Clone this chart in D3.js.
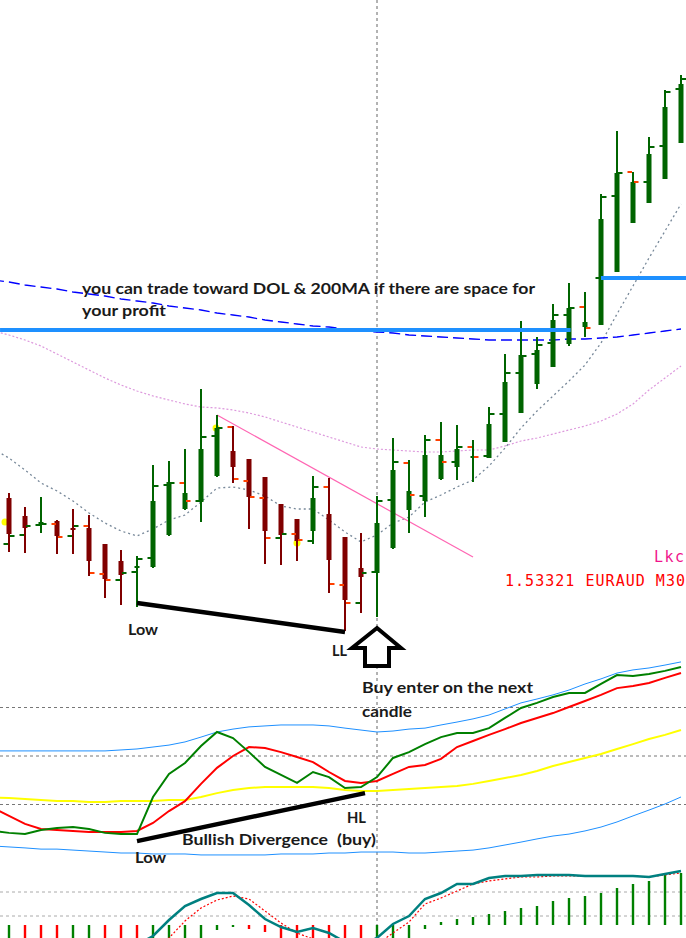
<!DOCTYPE html>
<html><head><meta charset="utf-8">
<script src="https://cdn.jsdelivr.net/npm/d3@7"></script>
<style>html,body{margin:0;padding:0;background:#fff;overflow:hidden}</style>
</head><body>
<script>
// ---------- DATA (EURAUD M30) ----------
const high  = [1.5307,1.5293,1.5303,1.5280,1.5291,1.5285,1.5256,1.5250,1.5244,1.5335,1.5339,1.5351,1.5411,1.5385,1.5374,1.5341,1.5323,1.5296,1.5281,1.5324,1.5322,1.5263,1.5267,1.5304,1.5362,1.5340,1.5365,1.5378,1.5375,1.5360,1.5393,1.5446,1.5479,1.5463,1.5496,1.5517,1.5508,1.5606,1.5669,1.5628,1.5663,1.5710,1.5725];
const low   = [1.5248,1.5247,1.5267,1.5246,1.5246,1.5224,1.5202,1.5195,1.5193,1.5232,1.5264,1.5290,1.5278,1.5323,1.5317,1.5271,1.5236,1.5235,1.5239,1.5256,1.5207,1.5169,1.5187,1.5183,1.5251,1.5267,1.5283,1.5320,1.5320,1.5318,1.5342,1.5358,1.5387,1.5411,1.5433,1.5454,1.5463,1.5475,1.5528,1.5577,1.5597,1.5621,1.5657];
const open  = [1.5256,1.5265,1.5275,1.5276,1.5264,1.5274,1.5226,1.5220,1.5228,1.5242,1.5315,1.5317,1.5299,1.5364,1.5373,1.5319,1.5302,1.5262,1.5266,1.5259,1.5313,1.5215,1.5197,1.5228,1.5300,1.5337,1.5304,1.5360,1.5338,1.5353,1.5344,1.5386,1.5427,1.5446,1.5457,1.5485,1.5493,1.5522,1.5604,1.5628,1.5618,1.5654,1.5711];
const close = [1.5264,1.5274,1.5276,1.5263,1.5274,1.5227,1.5220,1.5227,1.5241,1.5314,1.5317,1.5299,1.5363,1.5372,1.5321,1.5303,1.5262,1.5266,1.5260,1.5313,1.5216,1.5197,1.5227,1.5299,1.5338,1.5305,1.5360,1.5338,1.5353,1.5343,1.5386,1.5427,1.5444,1.5455,1.5485,1.5492,1.5472,1.5603,1.5627,1.5618,1.5653,1.5708,1.5721];
const haOpen  = [1.5302,1.5284,1.5276,1.5279,1.5272,1.5272,1.5256,1.5239,1.5232,1.5233,1.5265,1.5291,1.5298,1.5324,1.5349,1.5341,1.5323,1.5296,1.5281,1.5269,1.5286,1.5263,1.5232,1.5227,1.5252,1.5290,1.5299,1.5321,1.5333,1.5342,1.5342,1.5358,1.5387,1.5416,1.5433,1.5456,1.5473,1.5475,1.5528,1.5577,1.5597,1.5621,1.5657];
const haClose = [1.5266,1.5272,1.5278,1.5264,1.5271,1.5239,1.5221,1.5225,1.5234,1.5299,1.5318,1.5307,1.5351,1.5372,1.5333,1.5303,1.5269,1.5265,1.5259,1.5302,1.5240,1.5200,1.5223,1.5277,1.5330,1.5309,1.5345,1.5345,1.5351,1.5344,1.5376,1.5418,1.5445,1.5450,1.5480,1.5492,1.5478,1.5581,1.5627,1.5618,1.5646,1.5693,1.5716];

// indicator series below start one bar earlier (bar index -1) so they reach the left edge
const ma200    = [1.5520,1.5518,1.5515,1.5513,1.5511,1.5508,1.5506,1.5504,1.5501,1.5499,1.5497,1.5494,1.5492,1.5490,1.5487,1.5485,1.5483,1.5480,1.5478,1.5476,1.5474,1.5473,1.5471,1.5469,1.5468,1.5467,1.5465,1.5464,1.5463,1.5462,1.5461,1.5460,1.5460,1.5460,1.5460,1.5460,1.5461,1.5461,1.5462,1.5463,1.5465,1.5467,1.5469,1.5471];
const kcUpper  = [1.5469,1.5465,1.5460,1.5454,1.5446,1.5438,1.5430,1.5422,1.5415,1.5409,1.5404,1.5400,1.5396,1.5393,1.5392,1.5390,1.5387,1.5383,1.5378,1.5373,1.5368,1.5363,1.5358,1.5353,1.5351,1.5350,1.5349,1.5348,1.5348,1.5349,1.5350,1.5350,1.5354,1.5359,1.5362,1.5366,1.5370,1.5374,1.5379,1.5386,1.5396,1.5410,1.5422,1.5434];
const kcMiddle = [1.5351,1.5342,1.5330,1.5317,1.5309,1.5299,1.5287,1.5277,1.5269,1.5264,1.5271,1.5280,1.5285,1.5298,1.5312,1.5313,1.5310,1.5304,1.5294,1.5291,1.5291,1.5280,1.5268,1.5258,1.5265,1.5277,1.5283,1.5298,1.5305,1.5313,1.5320,1.5334,1.5352,1.5372,1.5389,1.5404,1.5419,1.5435,1.5457,1.5486,1.5514,1.5542,1.5569,1.5596];

const trendLine    = [{i:13, p:1.5385}, {i:29, p:1.5243}];
const levels       = [{p:1.5470, from:-0.56, to:35.1}, {p:1.5522, from:37, to:42.4}];
const priceLowLine = [{i:8, p:1.5197}, {i:21, p:1.5168}];
const markerDots   = [{i:-0.25, p:1.5278}, {i:12.94, p:1.5372}, {i:18, p:1.5257}];

// RSI-style panel (also from bar index -1)
const rsiLevels = [70, 50, 30];
const rsi     = [19.1,18.3,17.8,19.5,20.3,20.7,19.9,18.3,17.8,17.8,33.1,42.6,47.1,54.1,59.9,57.4,51.6,45.5,42.2,38.9,43.4,41.3,36.8,37.2,41.3,49.2,51.6,54.9,57.8,59.5,59.5,61.5,65.7,69.8,71.9,74.3,76.0,76.0,79.7,83.4,83.0,83.8,85.1,86.7];
const rsiMa   = [28.6,25.3,22.0,19.9,19.5,19.1,18.7,18.7,18.7,19.1,22.4,27.3,31.4,38.5,45.1,50.0,53.7,53.3,51.6,49.6,47.5,43.4,39.7,38.9,39.7,42.6,45.5,46.3,48.8,53.7,56.2,58.7,61.1,63.6,65.7,67.7,70.2,72.7,75.2,78.0,78.9,80.1,82.2,84.2];
const rsiSlow = [32.8,32.7,32.3,31.9,31.4,31.4,31.0,31.0,31.4,31.4,31.4,31.9,31.9,33.1,34.7,36.0,36.8,37.2,37.2,37.2,37.2,36.8,36.0,35.6,35.6,36.0,36.4,36.8,37.2,37.6,38.5,39.7,40.9,42.2,43.8,45.9,47.5,49.2,50.8,52.9,54.9,57.0,58.7,60.7];
const bandUp  = [52.1,52.1,52.1,52.1,52.1,52.1,52.1,52.1,52.5,52.9,53.7,54.5,55.8,57.8,59.9,61.1,62.0,62.4,62.8,62.8,62.8,62.4,61.5,60.7,59.9,60.3,61.1,61.5,62.8,64.0,65.3,66.9,69.4,71.9,73.5,75.2,77.2,79.7,81.8,84.2,85.5,86.3,87.5,88.8];
const bandLo  = [12.9,12.5,12.1,11.6,11.6,11.2,10.8,10.4,10.0,10.0,9.6,9.6,9.6,9.2,9.2,9.2,9.2,9.2,9.6,9.6,9.6,10.0,10.0,10.4,10.4,10.4,10.0,10.0,10.4,10.8,11.2,12.1,13.3,14.5,15.8,17.0,17.8,19.1,20.7,22.8,25.3,27.7,30.2,33.1];
const rsiDivLine = [{i:8, v:14.9}, {i:22.25, v:34.7}];

// MACD-style panel (points, bar index 0..)
const macdLevels = [33, 9];
const macdMain   = [-30,-30,-28,-28,-28,-30,-32,-30,-20,-11,5,19,26,32,32,20,6,-2,-7,-3,-8,-17,-20,-13,1,9,26,32,41,41,47,49,49,50,50,50,49,49,49,49,48,51,54];
const macdSignal = [-30,-30,-30,-30,-30,-30,-32,-33,-30,-25,-13,4,17,25,29,26,14,2,-8,-14,-18,-19,-20,-19,-8,3,21,27,34,41,44,46,48,48,49,49,49,49,49,49,48,50,52];
const macdHist   = [-18,-20,-22,-24,-22,-20,-22,-24,-26,-22,-18,-15,-13,-5,-2,-4,-7,-15,-18,-20,-22,-25,-28,-24,-18,-13,-4,3,6,8,11,14,17,19,24,27,29,32,37,41,44,50,52];

// ---------- DRAW ----------
const W = 686, H = 938;
const svg = d3.select("body").append("svg").attr("width", W).attr("height", H)
  .style("background", "#fff").style("display", "block");

const n = high.length;
const x = d3.scaleLinear().domain([0, n - 1]).range([9, 681]);
const y = d3.scaleLinear().domain([1.58, 1.516]).range([0, 640]);
const yR = d3.scaleLinear().domain([0, 100]).range([877.25, 634.75]);
const yM = d3.scaleLinear().domain([0, 50]).range([925, 875]);
const idx = d3.range(n);

// dashed grid lines
svg.selectAll(".rl").data(rsiLevels).join("line")
  .attr("x1", 0).attr("x2", W).attr("y1", d => yR(d)).attr("y2", d => yR(d))
  .attr("stroke", "#777").attr("stroke-dasharray", "3,3").attr("stroke-width", 1);
svg.selectAll(".ml").data(macdLevels).join("line")
  .attr("x1", 0).attr("x2", W).attr("y1", d => yM(d)).attr("y2", d => yM(d))
  .attr("stroke", "#aaa").attr("stroke-dasharray", "3,3").attr("stroke-width", 1);

// vertical crosshair
svg.append("line").attr("x1", x(23)).attr("x2", x(23)).attr("y1", 0).attr("y2", H)
  .attr("stroke", "#666").attr("stroke-dasharray", "3,3").attr("stroke-width", 1);

// series starting at bar -1
const lineP = arr => d3.line().x((d, i) => x(i - 1)).y(d => y(d))(arr);

// MAs / channel
svg.append("path").attr("d", lineP(kcUpper)).attr("fill", "none")
  .attr("stroke", "#dd99dd").attr("stroke-width", 1.2).attr("stroke-dasharray", "2,2");
svg.append("path").attr("d", lineP(kcMiddle)).attr("fill", "none")
  .attr("stroke", "#778899").attr("stroke-width", 1.3).attr("stroke-dasharray", "2,3");
svg.append("path").attr("d", lineP(ma200)).attr("fill", "none")
  .attr("stroke", "#0000ff").attr("stroke-width", 1.3).attr("stroke-dasharray", "11,5");

// trend line
svg.append("line").attr("x1", x(trendLine[0].i)).attr("y1", y(trendLine[0].p))
  .attr("x2", x(trendLine[1].i)).attr("y2", y(trendLine[1].p))
  .attr("stroke", "#ff66b3").attr("stroke-width", 1.2);

// yellow markers
svg.selectAll(".dot").data(markerDots).join("circle")
  .attr("cx", d => x(d.i)).attr("cy", d => y(d.p)).attr("r", 3.5).attr("fill", "#ffff00");

// candles
const GREEN = "#006400", RED = "#800000", ORANGE = "#ff4000";
const g = svg.append("g");
g.selectAll(".wick").data(idx).join("rect")
  .attr("x", i => x(i) - 1).attr("width", 2)
  .attr("y", i => y(high[i])).attr("height", i => y(low[i]) - y(high[i]))
  .attr("fill", i => haClose[i] >= haOpen[i] ? GREEN : RED);
g.selectAll(".body").data(idx).join("rect")
  .attr("x", i => x(i) - 2.5).attr("width", 5)
  .attr("y", i => y(Math.max(haOpen[i], haClose[i])))
  .attr("height", i => Math.max(2, Math.abs(y(haOpen[i]) - y(haClose[i]))))
  .attr("fill", i => haClose[i] >= haOpen[i] ? GREEN : RED);
g.selectAll(".tl").data(idx).join("rect")
  .attr("x", i => x(i) - 5.5).attr("width", 4.5)
  .attr("y", i => y(open[i]) - 1).attr("height", 2)
  .attr("fill", i => close[i] >= open[i] ? GREEN : ORANGE);
g.selectAll(".tr").data(idx).join("rect")
  .attr("x", i => x(i) + 1).attr("width", 4.5)
  .attr("y", i => y(close[i]) - 1).attr("height", 2)
  .attr("fill", i => close[i] >= open[i] ? GREEN : ORANGE);

// horizontal levels (DOL)
svg.selectAll(".lvl").data(levels).join("line")
  .attr("x1", d => x(d.from)).attr("x2", d => x(d.to))
  .attr("y1", d => y(d.p)).attr("y2", d => y(d.p))
  .attr("stroke", "#1e90ff").attr("stroke-width", 4);

// Low -> LL line
svg.append("line").attr("x1", x(priceLowLine[0].i)).attr("y1", y(priceLowLine[0].p))
  .attr("x2", x(priceLowLine[1].i)).attr("y2", y(priceLowLine[1].p))
  .attr("stroke", "#000").attr("stroke-width", 4.5);

// up arrow
const ax = x(23), at = y(1.5172);
svg.append("path")
  .attr("d", `M${ax},${at} L${ax + 24},${at + 20} L${ax + 12},${at + 20} L${ax + 12},${at + 38} L${ax - 12},${at + 38} L${ax - 12},${at + 20} L${ax - 25},${at + 20} Z`)
  .attr("fill", "#fff").attr("stroke", "#000").attr("stroke-width", 4).attr("stroke-linejoin", "miter");

// ---- RSI panel ----
const lineR = arr => d3.line().x((d, i) => x(i - 1)).y(d => yR(d))(arr);
svg.append("path").attr("d", lineR(bandUp)).attr("fill", "none").attr("stroke", "#1e90ff").attr("stroke-width", 1);
svg.append("path").attr("d", lineR(bandLo)).attr("fill", "none").attr("stroke", "#1e90ff").attr("stroke-width", 1);
svg.append("path").attr("d", lineR(rsiSlow)).attr("fill", "none").attr("stroke", "#ffff00").attr("stroke-width", 2);
svg.append("path").attr("d", lineR(rsiMa)).attr("fill", "none").attr("stroke", "#ff0000").attr("stroke-width", 2);
svg.append("path").attr("d", lineR(rsi)).attr("fill", "none").attr("stroke", "#008000").attr("stroke-width", 2);
svg.append("line").attr("x1", x(rsiDivLine[0].i)).attr("y1", yR(rsiDivLine[0].v))
  .attr("x2", x(rsiDivLine[1].i)).attr("y2", yR(rsiDivLine[1].v))
  .attr("stroke", "#000").attr("stroke-width", 4.5);

// ---- MACD panel ----
svg.selectAll(".hb").data(idx).join("rect")
  .attr("x", i => x(i) - 1.2).attr("width", 2.4)
  .attr("y", i => Math.min(yM(0), yM(macdHist[i])))
  .attr("height", i => Math.abs(yM(macdHist[i]) - yM(0)))
  .attr("fill", i => (i === 0 || macdHist[i] >= macdHist[i - 1]) ? "#008000" : "#ff0000");
const lineM = arr => d3.line().x((d, i) => x(i)).y(d => yM(d))(arr);
svg.append("path").attr("d", lineM(macdSignal)).attr("fill", "none").attr("stroke", "#ff0000")
  .attr("stroke-width", 1.2).attr("stroke-dasharray", "2,2");
svg.append("path").attr("d", lineM(macdMain)).attr("fill", "none").attr("stroke", "#008080").attr("stroke-width", 2.5);

// ---- Texts ----
const ann = [
  {t: "you can trade toward DOL & 200MA if there are space for", x: 82, y: 294, w: 453},
  {t: "your profit", x: 82, y: 316, w: 84},
  {t: "Low", x: 128, y: 635, w: 30},
  {t: "LL", x: 332, y: 656, w: 15},
  {t: "Buy enter on the next", x: 362, y: 693, w: 171},
  {t: "candle", x: 362, y: 717, w: 50},
  {t: "HL", x: 347, y: 823, w: 19},
  {t: "Bullish Divergence", x: 182, y: 845, w: 146},
  {t: "(buy)", x: 337, y: 845, w: 39},
  {t: "Low", x: 135, y: 863, w: 31}
];
svg.selectAll(".ann").data(ann).join("text")
  .attr("x", d => d.x).attr("y", d => d.y).text(d => d.t)
  .attr("textLength", d => d.w).attr("lengthAdjust", "spacingAndGlyphs")
  .attr("font-family", "Lato, 'Open Sans', sans-serif").attr("font-weight", "bold")
  .attr("font-size", 16).attr("fill", "#1a1a1a");

svg.append("text").attr("x", 654).attr("y", 562).text("Lkc")
  .attr("textLength", 30).attr("font-family", "'DejaVu Sans Mono', monospace")
  .attr("font-size", 15).attr("fill", "#f0148c");
svg.append("text").attr("x", 505).attr("y", 586).text("1.53321 EURAUD M30")
  .attr("textLength", 180).attr("font-family", "'DejaVu Sans Mono', monospace")
  .attr("font-size", 15).attr("fill", "#ff0000");
</script>
</body></html>
